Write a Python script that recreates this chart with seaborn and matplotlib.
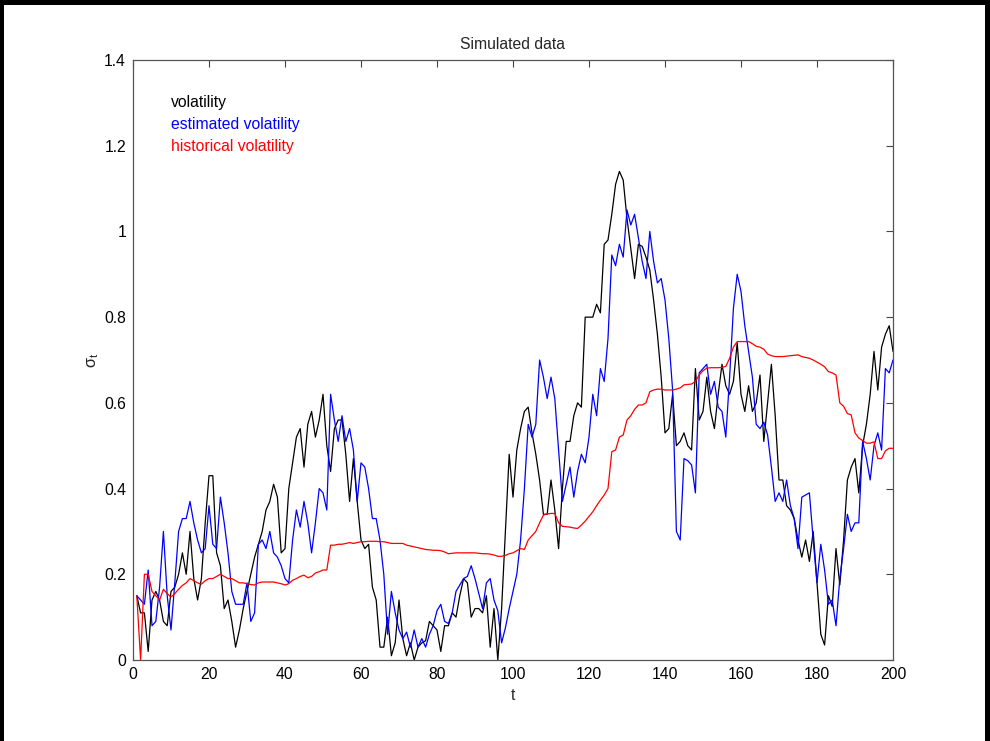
import numpy as np
import pandas as pd
import matplotlib
matplotlib.use("Agg")
import matplotlib.pyplot as plt
import seaborn as sns
from matplotlib.patches import Rectangle

t = list(range(1, 201))

volatility = [
    0.15, 0.11, 0.11, 0.02, 0.14, 0.16, 0.14, 0.09, 0.08, 0.16,
    0.17, 0.20, 0.25, 0.20, 0.30, 0.19, 0.14, 0.19, 0.32, 0.43,
    0.43, 0.25, 0.22, 0.12, 0.14, 0.09, 0.03, 0.07, 0.12, 0.16,
    0.20, 0.24, 0.27, 0.30, 0.35, 0.37, 0.41, 0.38, 0.25, 0.26,
    0.40, 0.46, 0.52, 0.54, 0.45, 0.55, 0.58, 0.52, 0.56, 0.62,
    0.50, 0.44, 0.54, 0.56, 0.56, 0.48, 0.37, 0.47, 0.37, 0.28,
    0.26, 0.27, 0.17, 0.14, 0.03, 0.03, 0.10, 0.01, 0.04, 0.14,
    0.05, 0.01, 0.04, 0.00, 0.03, 0.04, 0.045, 0.09, 0.08, 0.07,
    0.02, 0.08, 0.08, 0.11, 0.10, 0.15, 0.19, 0.18, 0.10, 0.12,
    0.12, 0.11, 0.15, 0.03, 0.12, 0.00, 0.12, 0.30, 0.48, 0.38,
    0.49, 0.54, 0.58, 0.59, 0.53, 0.48, 0.42, 0.34, 0.34, 0.42,
    0.35, 0.26, 0.40, 0.51, 0.51, 0.57, 0.60, 0.59, 0.80, 0.80,
    0.80, 0.83, 0.81, 0.97, 0.98, 1.04, 1.11, 1.14, 1.12, 1.03,
    0.96, 0.89, 0.97, 0.965, 0.94, 0.91, 0.84, 0.76, 0.66, 0.53,
    0.54, 0.62, 0.50, 0.51, 0.53, 0.50, 0.49, 0.68, 0.56, 0.58,
    0.66, 0.58, 0.54, 0.62, 0.69, 0.64, 0.62, 0.65, 0.74, 0.62,
    0.58, 0.64, 0.58, 0.60, 0.665, 0.51, 0.60, 0.69, 0.57, 0.42,
    0.42, 0.36, 0.35, 0.33, 0.28, 0.24, 0.28, 0.23, 0.30, 0.18,
    0.06, 0.035, 0.15, 0.125, 0.26, 0.175, 0.28, 0.42, 0.45, 0.47,
    0.39, 0.50, 0.55, 0.62, 0.72, 0.63, 0.73, 0.76, 0.78, 0.72,
]

estimated = [
    0.15, 0.14, 0.13, 0.21, 0.08, 0.09, 0.17, 0.30, 0.15, 0.07,
    0.18, 0.30, 0.33, 0.33, 0.37, 0.32, 0.28, 0.25, 0.26, 0.36,
    0.27, 0.26, 0.38, 0.32, 0.25, 0.16, 0.13, 0.13, 0.13, 0.18,
    0.09, 0.11, 0.27, 0.28, 0.26, 0.30, 0.25, 0.24, 0.22, 0.19,
    0.18, 0.28, 0.35, 0.31, 0.37, 0.32, 0.25, 0.32, 0.40, 0.39,
    0.35, 0.62, 0.56, 0.51, 0.57, 0.51, 0.54, 0.49, 0.37, 0.46,
    0.45, 0.40, 0.33, 0.33, 0.28, 0.20, 0.06, 0.16, 0.11, 0.07,
    0.05, 0.065, 0.03, 0.07, 0.03, 0.05, 0.03, 0.06, 0.08, 0.115,
    0.13, 0.09, 0.085, 0.11, 0.16, 0.175, 0.19, 0.195, 0.22, 0.19,
    0.155, 0.12, 0.18, 0.19, 0.14, 0.115, 0.04, 0.075, 0.12, 0.16,
    0.20, 0.28, 0.40, 0.55, 0.52, 0.55, 0.70, 0.66, 0.61, 0.66,
    0.61, 0.49, 0.37, 0.41, 0.45, 0.38, 0.44, 0.48, 0.46, 0.52,
    0.62, 0.57, 0.68, 0.65, 0.75, 0.945, 0.92, 0.97, 0.94, 1.05,
    1.015, 1.04, 0.985, 0.93, 0.89, 1.00, 0.93, 0.88, 0.89, 0.84,
    0.75, 0.63, 0.30, 0.28, 0.47, 0.465, 0.455, 0.39, 0.67, 0.68,
    0.69, 0.62, 0.65, 0.59, 0.58, 0.52, 0.66, 0.82, 0.90, 0.86,
    0.78, 0.72, 0.66, 0.55, 0.54, 0.555, 0.525, 0.45, 0.37, 0.39,
    0.37, 0.42, 0.36, 0.33, 0.26, 0.38, 0.385, 0.39, 0.28, 0.18,
    0.27, 0.21, 0.13, 0.14, 0.08, 0.19, 0.26, 0.34, 0.30, 0.32,
    0.32, 0.51, 0.47, 0.42, 0.50, 0.53, 0.49, 0.68, 0.67, 0.70,
]

historical = [
    0.15, 0.00, 0.20, 0.20, 0.16, 0.15, 0.14, 0.165, 0.155, 0.147,
    0.155, 0.165, 0.174, 0.18, 0.19, 0.185, 0.18, 0.177, 0.185, 0.19,
    0.19, 0.195, 0.20, 0.195, 0.19, 0.19, 0.185, 0.18, 0.18, 0.178,
    0.176, 0.175, 0.18, 0.182, 0.182, 0.182, 0.182, 0.18, 0.178, 0.175,
    0.178, 0.186, 0.19, 0.195, 0.198, 0.192, 0.195, 0.203, 0.206, 0.21,
    0.21, 0.268, 0.268, 0.27, 0.27, 0.272, 0.274, 0.272, 0.274, 0.276,
    0.276, 0.277, 0.277, 0.277, 0.276, 0.276, 0.274, 0.272, 0.272, 0.272,
    0.272, 0.268, 0.266, 0.264, 0.262, 0.26, 0.258, 0.257, 0.256, 0.256,
    0.255, 0.252, 0.248, 0.249, 0.25, 0.25, 0.25, 0.25, 0.25, 0.25,
    0.249, 0.248, 0.248, 0.247, 0.245, 0.242, 0.242, 0.244, 0.248, 0.25,
    0.255, 0.26, 0.258, 0.28, 0.29, 0.30, 0.32, 0.338, 0.341, 0.342,
    0.342, 0.32, 0.312, 0.311, 0.31, 0.308, 0.307, 0.315, 0.324, 0.335,
    0.346, 0.36, 0.373, 0.385, 0.40, 0.486, 0.49, 0.52, 0.525, 0.56,
    0.57, 0.585, 0.595, 0.595, 0.60, 0.626, 0.63, 0.632, 0.632, 0.63,
    0.63, 0.63, 0.632, 0.635, 0.642, 0.643, 0.644, 0.65, 0.665, 0.675,
    0.681, 0.682, 0.682, 0.682, 0.683, 0.685, 0.704, 0.73, 0.743, 0.743,
    0.743, 0.743, 0.738, 0.732, 0.73, 0.725, 0.714, 0.71, 0.708, 0.708,
    0.708, 0.709, 0.71, 0.711, 0.712, 0.708, 0.706, 0.704, 0.70, 0.695,
    0.69, 0.684, 0.673, 0.670, 0.665, 0.60, 0.592, 0.575, 0.572, 0.53,
    0.518, 0.512, 0.506, 0.506, 0.509, 0.47, 0.47, 0.488, 0.494, 0.494,
]

series_names = ["volatility", "estimated volatility", "historical volatility"]
series_colors = ["#000000", "#0000ff", "#ff0000"]
x_ticks = [0, 20, 40, 60, 80, 100, 120, 140, 160, 180, 200]
y_ticks = [0, 0.2, 0.4, 0.6, 0.8, 1.0, 1.2, 1.4]
y_tick_labels = ["0", "0.2", "0.4", "0.6", "0.8", "1", "1.2", "1.4"]

df = pd.DataFrame({
    "t": t * 3,
    "value": volatility + estimated + historical,
    "series": sum([[n] * len(t) for n in series_names], []),
})

sns.set_style("white")
plt.rcParams["font.family"] = ["Liberation Sans", "DejaVu Sans"]
plt.rcParams["mathtext.fontset"] = "custom"
plt.rcParams["mathtext.rm"] = "Liberation Sans"

fig = plt.figure(figsize=(9.9, 7.41), dpi=100)
fig.patch.set_facecolor("white")
ax = fig.add_axes([133 / 990, 1 - 660 / 741, 760 / 990, 600 / 741])

sns.lineplot(data=df, x="t", y="value", hue="series", hue_order=series_names,
             palette=dict(zip(series_names, series_colors)), linewidth=0.9,
             ax=ax, legend=False, estimator=None, sort=False)

FS = 11.3
ax.set_xlim(0, 200)
ax.set_ylim(0, 1.4)
ax.set_xticks(x_ticks)
ax.set_xticklabels([str(v) for v in x_ticks])
ax.set_yticks(y_ticks)
ax.set_yticklabels(y_tick_labels)
ax.tick_params(direction="in", length=5, width=0.8, top=True, right=True,
               labelsize=FS, colors="#444444", labelcolor="black", pad=5)
for s in ax.spines.values():
    s.set_color("#555555")
    s.set_linewidth(0.9)

ax.set_title("Simulated data", fontsize=FS, pad=8)
ax.set_xlabel("t", fontsize=FS, labelpad=4)
ax.set_ylabel("σ$_{\\mathregular{t}}$", fontsize=FS + 0.5, labelpad=2)

# coloured-text legend (MATLAB style)
for i, (name, col) in enumerate(zip(series_names, series_colors)):
    ax.text(0.05, 0.93 - i * 0.0367, name, color=col, fontsize=FS,
            transform=ax.transAxes, va="center", ha="left")

# black frame strips at the image edges
for (x0, y0, w, h) in [(0, 1 - 5 / 741, 1, 5 / 741), (0, 0, 4 / 990, 1), (1 - 5 / 990, 0, 5 / 990, 1)]:
    fig.patches.append(Rectangle((x0, y0), w, h, transform=fig.transFigure,
                                 facecolor="black", edgecolor="none", zorder=10))

fig.savefig("out.png", dpi=100, facecolor="white")
